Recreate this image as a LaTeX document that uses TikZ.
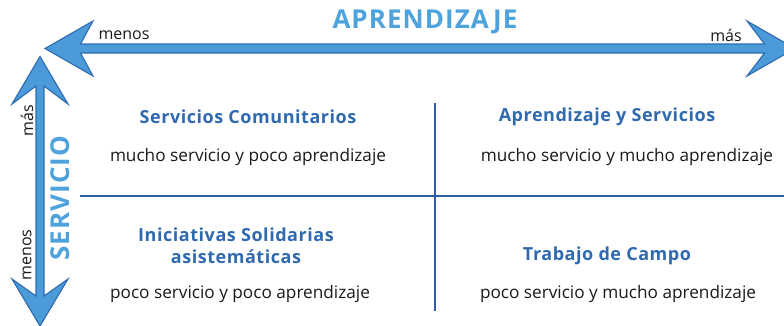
\documentclass[tikz,border=0pt]{standalone}
\usepackage{fontspec}
\setmainfont{Open Sans}
\definecolor{arrfill}{HTML}{4B9BD8}
\definecolor{arredge}{HTML}{2F6BB0}
\definecolor{gridc}{HTML}{2B5EA7}
\definecolor{ttl}{HTML}{2F69AE}
\definecolor{axl}{HTML}{4FA3DC}
\definecolor{txt}{HTML}{1A1A1A}
\begin{document}
\begin{tikzpicture}[x=1pt,y=-1pt,
  arrowshape/.style={fill=arrfill,draw=arredge,line width=1.1pt,line join=miter},
  gridline/.style={draw=gridc,line width=1.4pt},
  qtitle/.style={font=\fontsize{18}{22}\selectfont\bfseries\addfontfeature{LetterSpace=3},text=ttl,align=center,inner sep=0pt},
  qtext/.style={font=\fontsize{17.2}{20}\selectfont,text=txt,inner sep=0pt},
  axtitle/.style={font=\fontsize{26}{27}\selectfont\bfseries\addfontfeature{LetterSpace=4},text=axl,inner sep=0pt},
  axend/.style={font=\fontsize{16}{18}\selectfont,text=txt,inner sep=0pt}]
\useasboundingbox (0,0) rectangle (784,325);
% horizontal arrow
\draw[arrowshape] (45,48.5) -- (93,21) -- (80.5,44) -- (764.5,44) -- (747,21) -- (795,48.5)
  -- (747,76) -- (764.5,53) -- (80.5,53) -- (93,76) -- cycle;
% vertical arrow
\draw[arrowshape] (40,56.5) -- (68,104) -- (44,86) -- (44,296) -- (68,279) -- (40,326)
  -- (12,279) -- (36,296) -- (36,86) -- (12,104) -- cycle;
% quadrant lines
\coordinate (hl) at (80,196);
\coordinate (hr) at (784,196);
\coordinate (vt) at (435,103);
\coordinate (vb) at (435,311);
\draw[gridline] (hl) -- (hr);
\draw[gridline] (vt) -- (vb);
% axis labels
\node[axtitle] (apr) at (425,22) {APRENDIZAJE};
\node[axtitle,rotate=90] (serv) at (60,198) {SERVICIO};
\node[axend] (hmenos) at (124,35) {menos};
\node[axend] (hmas) at (726,35) {más};
\node[axend,rotate=90] (vmas) at (27,121) {más};
\node[axend,rotate=90] (vmenos) at (27,255) {menos};
% quadrants
\node[qtitle] (q1t) at (248,117) {Servicios Comunitarios};
\node[qtext] (q1x) at (248,157) {mucho servicio y poco aprendizaje};
\node[qtitle] (q2t) at (607,117) {Aprendizaje y Servicios};
\node[qtext] (q2x) at (627,157) {mucho servicio y mucho aprendizaje};
\node[qtitle] (q3t) at (236,246) {Iniciativas Solidarias\\asistemáticas};
\node[qtext] (q3x) at (240,294) {poco servicio y poco aprendizaje};
\node[qtitle] (q4t) at (607,256) {Trabajo de Campo};
\node[qtext] (q4x) at (618,294) {poco servicio y mucho aprendizaje};
\end{tikzpicture}
\end{document}
